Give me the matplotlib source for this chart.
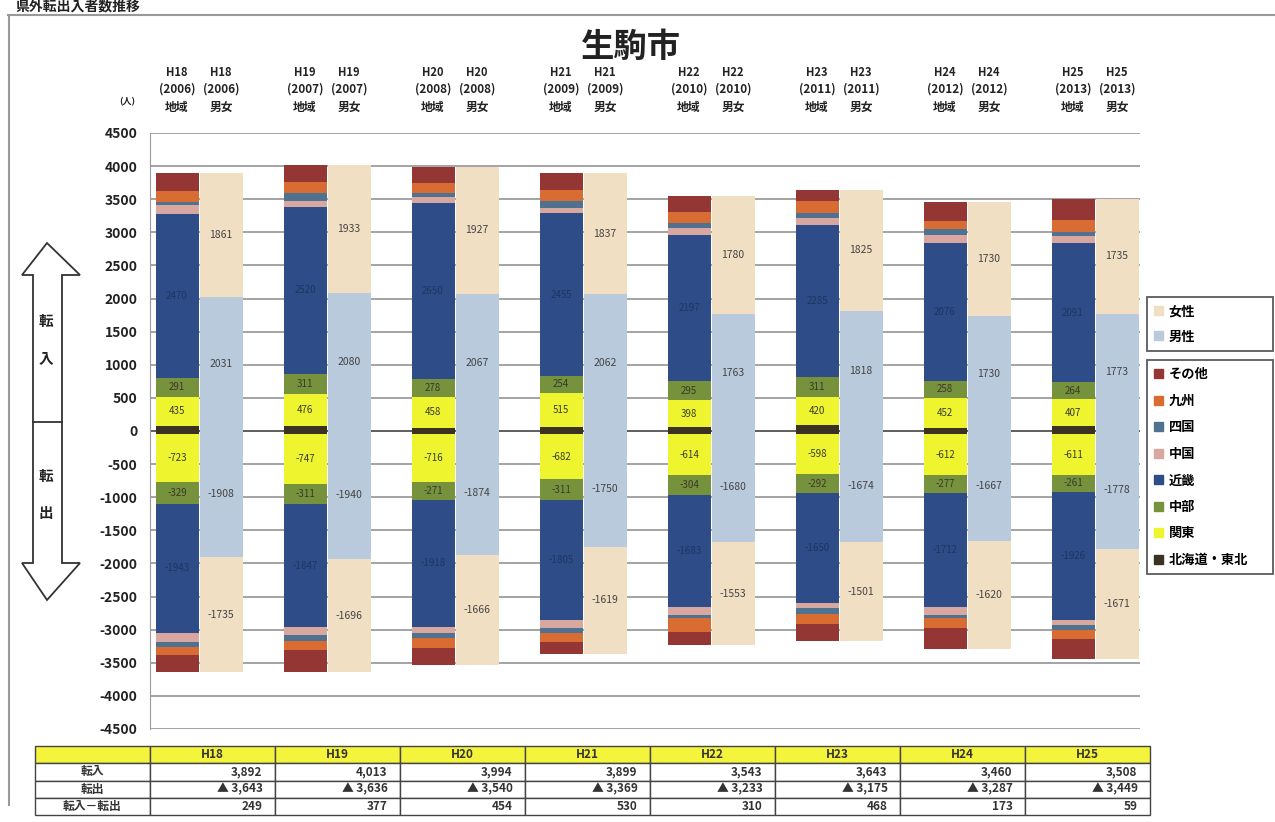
import matplotlib
matplotlib.use('Agg')
import matplotlib.pyplot as plt
import matplotlib.transforms as mtransforms
from matplotlib.patches import Polygon, Patch
from matplotlib.lines import Line2D
import numpy as np

plt.rcParams['font.family'] = ['Noto Sans CJK JP', 'DejaVu Sans']
plt.rcParams['axes.unicode_minus'] = False

# 年度
years = ['H18', 'H19', 'H20', 'H21', 'H22', 'H23', 'H24', 'H25']
seireki = ['2006', '2007', '2008', '2009', '2010', '2011', '2012', '2013']

# 地域別 転入 (人)
in_tohoku = [80, 77, 52, 64, 64, 90, 47, 71]
in_kanto = [435, 476, 458, 515, 398, 420, 452, 407]
in_chubu = [291, 311, 278, 254, 295, 311, 258, 264]
in_kinki = [2470, 2520, 2650, 2455, 2197, 2285, 2076, 2091]
in_chugoku = [130, 90, 100, 75, 105, 105, 120, 115]
in_shikoku = [45, 120, 60, 105, 75, 75, 100, 60]
in_kyushu = [180, 170, 150, 165, 180, 180, 120, 175]
in_other = [261, 249, 246, 266, 229, 177, 287, 325]

# 地域別 転出 (人)
out_tohoku = [-50, -50, -50, -50, -50, -50, -50, -50]
out_kanto = [-723, -747, -716, -682, -614, -598, -612, -611]
out_chubu = [-329, -311, -271, -311, -304, -292, -277, -261]
out_kinki = [-1943, -1847, -1918, -1805, -1683, -1650, -1712, -1926]
out_chugoku = [-135, -120, -90, -120, -120, -90, -120, -75]
out_shikoku = [-80, -90, -75, -75, -60, -90, -50, -75]
out_kyushu = [-120, -135, -150, -150, -200, -150, -150, -150]
out_other = [-263, -336, -270, -176, -202, -255, -316, -301]

# 男女別
male_in = [2031, 2080, 2067, 2062, 1763, 1818, 1730, 1773]
female_in = [1861, 1933, 1927, 1837, 1780, 1825, 1730, 1735]
male_out = [-1908, -1940, -1874, -1750, -1680, -1674, -1667, -1778]
female_out = [-1735, -1696, -1666, -1619, -1553, -1501, -1620, -1671]

# 表
total_in = ['3,892', '4,013', '3,994', '3,899', '3,543', '3,643', '3,460', '3,508']
total_out = ['▲ 3,643', '▲ 3,636', '▲ 3,540', '▲ 3,369', '▲ 3,233', '▲ 3,175', '▲ 3,287', '▲ 3,449']
net = ['249', '377', '454', '530', '310', '468', '173', '59']

region_names = ['北海道・東北', '関東', '中部', '近畿', '中国', '四国', '九州', 'その他']
region_colors = ['#3b3322', '#eef52e', '#76923c', '#2d4c88', '#d8a79f', '#4f7291', '#d86c32', '#943634']
female_color = '#f1dfc4'
male_color = '#b9cadc'

W, H = 1275, 822
fig = plt.figure(figsize=(W / 100, H / 100), dpi=100)


def fx(px):
    return px / W


def fy(py):
    return 1 - py / H


ax = fig.add_axes([fx(150), fy(729), fx(990), 596 / H])

x = np.arange(len(years))
gap = 44 / 128
bw = 43 / 128

ins = [in_tohoku, in_kanto, in_chubu, in_kinki, in_chugoku, in_shikoku, in_kyushu, in_other]
outs = [out_tohoku, out_kanto, out_chubu, out_kinki, out_chugoku, out_shikoku, out_kyushu, out_other]

bottom_in = np.zeros(len(years))
bottom_out = np.zeros(len(years))
for k, (vin, vout) in enumerate(zip(ins, outs)):
    b1 = ax.bar(x, vin, bw, bottom=bottom_in, color=region_colors[k], linewidth=0, zorder=3)
    b2 = ax.bar(x, vout, bw, bottom=bottom_out, color=region_colors[k], linewidth=0, zorder=3)
    if region_names[k] in ('関東', '中部', '近畿'):
        tc = '#1e3562' if region_names[k] == '近畿' else '#3a3a2a'
        ax.bar_label(b1, labels=[str(v) for v in vin], label_type='center',
                     fontsize=7, color=tc, zorder=4)
        ax.bar_label(b2, labels=[str(v) for v in vout], label_type='center',
                     fontsize=7, color=tc, zorder=4)
    bottom_in += np.array(vin)
    bottom_out += np.array(vout)

gb1 = ax.bar(x + gap, male_in, bw, color=male_color, linewidth=0, zorder=3)
gb2 = ax.bar(x + gap, female_in, bw, bottom=male_in, color=female_color, linewidth=0, zorder=3)
gb3 = ax.bar(x + gap, male_out, bw, color=male_color, linewidth=0, zorder=3)
gb4 = ax.bar(x + gap, female_out, bw, bottom=male_out, color=female_color, linewidth=0, zorder=3)
for b, vals in ((gb1, male_in), (gb2, female_in), (gb3, male_out), (gb4, female_out)):
    ax.bar_label(b, labels=[str(v) for v in vals], label_type='center',
                 fontsize=7.5, color='#444444', zorder=4)

ax.set_xlim(-27 / 128, -27 / 128 + 990 / 128)
ax.set_ylim(-4500, 4500)
ax.set_yticks(np.arange(-4500, 4501, 500))
ax.yaxis.grid(True, color='#8a8a8a', linewidth=1.1)
ax.set_axisbelow(True)
ax.set_xticks([])
for s in ('top', 'right', 'bottom'):
    ax.spines[s].set_visible(False)
ax.spines['left'].set_color('#9a9a9a')
ax.tick_params(axis='y', length=0, pad=9, labelsize=10, labelcolor='#222222')
for t in ax.get_yticklabels():
    t.set_fontweight('bold')
ax.axhline(0, color='#555555', linewidth=1.2, zorder=2)

# 列見出し
tr = mtransforms.blended_transform_factory(ax.transData, fig.transFigure)
for i in range(len(years)):
    for dx, kind in ((0, '地域'), (gap, '男女')):
        ax.text(x[i] + dx, fy(72), years[i], transform=tr, ha='center', va='center',
                fontsize=8, fontweight='bold', color='#222222')
        ax.text(x[i] + dx, fy(89), '(' + seireki[i] + ')', transform=tr, ha='center', va='center',
                fontsize=8.5, fontweight='bold', color='#222222')
        ax.text(x[i] + dx, fy(107), kind, transform=tr, ha='center', va='center',
                fontsize=8.5, fontweight='bold', color='#222222')
fig.text(fx(127), fy(102), '(人)', ha='center', va='center', fontsize=6.5, fontweight='bold', color='#222222')

fig.text(fx(631), fy(47), '生駒市', ha='center', va='center', fontsize=24, fontweight='bold', color='#222222')
fig.text(fx(15), 1.0, '県外転出入者数推移', ha='left', va='top', fontsize=10, fontweight='bold', color='#222222')

# 枠線
fig.add_artist(Line2D([fx(8), 1], [fy(15), fy(15)], color='#999999', linewidth=1.5))
fig.add_artist(Line2D([fx(9), fx(9)], [fy(15), fy(805)], color='#999999', linewidth=1.5))

# 左の矢印
arrow = [(47, 243), (80, 275), (62, 275), (62, 563), (80, 563), (47, 600),
         (22, 563), (33, 563), (33, 275), (22, 275)]
fig.add_artist(Polygon([(fx(a), fy(b)) for a, b in arrow], closed=True, fill=False,
                       edgecolor='#333333', linewidth=1.3, transform=fig.transFigure))
fig.add_artist(Line2D([fx(33), fx(62)], [fy(422), fy(422)], color='#333333', linewidth=1.3))
for ch, py in (('転', 321), ('入', 358), ('転', 476), ('出', 513)):
    fig.text(fx(46), fy(py), ch, ha='center', va='center', fontsize=10.5, fontweight='bold', color='#222222')

# 凡例
lp = dict(weight='bold', size=9.5)
h1 = [Patch(color=female_color), Patch(color=male_color)]
leg1 = fig.legend(h1, ['女性', '男性'], loc='upper left',
                  bbox_to_anchor=(fx(1147), fy(297), fx(126), 0), mode='expand',
                  frameon=True, fancybox=False, edgecolor='#333333', prop=lp,
                  handlelength=0.7, handleheight=0.7, handletextpad=0.4, borderaxespad=0,
                  borderpad=0.55, labelspacing=0.85)
leg1.get_frame().set_linewidth(1.3)
h2 = [Patch(color=c) for c in region_colors[::-1]]
leg2 = fig.legend(h2, region_names[::-1], loc='upper left',
                  bbox_to_anchor=(fx(1147), fy(360), fx(126), 0), mode='expand',
                  frameon=True, fancybox=False, edgecolor='#333333', prop=lp,
                  handlelength=0.7, handleheight=0.7, handletextpad=0.4, borderaxespad=0,
                  borderpad=0.55, labelspacing=0.95)
leg2.get_frame().set_linewidth(1.3)

# 表
tax = fig.add_axes([fx(35), fy(815), fx(1115), 69 / H])
tax.axis('off')
cells = [[''] + years, ['転入'] + total_in, ['転出'] + total_out, ['転入－転出'] + net]
cols = [115] + [125] * len(years)
tbl = tax.table(cellText=cells, colWidths=[c / sum(cols) for c in cols], bbox=[0, 0, 1, 1], cellLoc='right')
tbl.auto_set_font_size(False)
tbl.set_fontsize(8.5)
for (r, c), cell in tbl.get_celld().items():
    cell.set_edgecolor('#444444')
    cell.set_linewidth(1.0)
    cell.get_text().set_fontweight('bold')
    cell.get_text().set_color('#333333')
    if r == 0:
        cell.set_facecolor('#f4f43c')
    if r == 0 or c == 0:
        cell._loc = 'center'
        cell.get_text().set_horizontalalignment('center')

fig.savefig('out.png', dpi=100)
